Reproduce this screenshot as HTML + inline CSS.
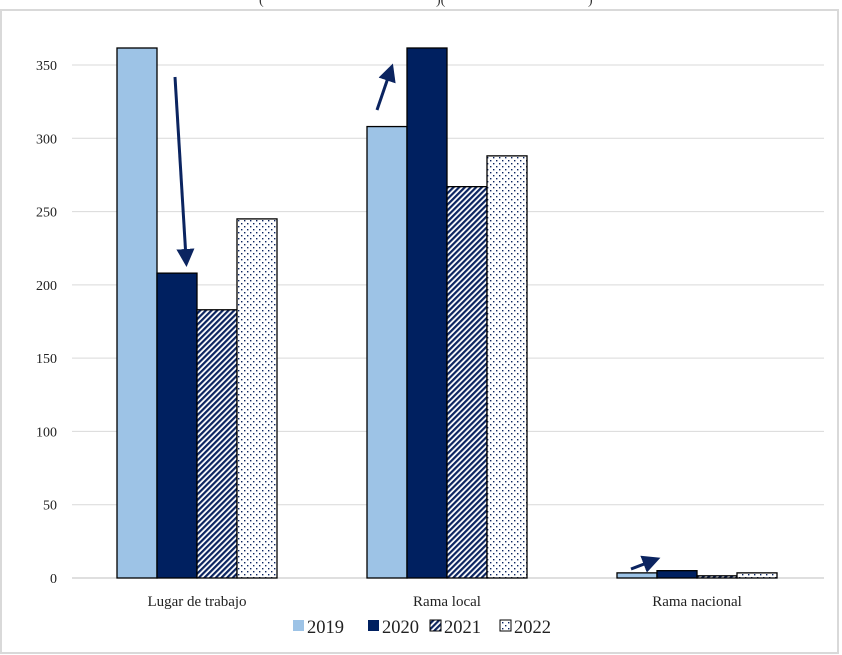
<!DOCTYPE html>
<html><head><meta charset="utf-8"><style>
body{margin:0;background:#fff;}
svg{display:block;font-family:"Liberation Serif",serif;}
</style></head><body>
<svg width="842" height="655" id="chart">
<defs>
<pattern id="p2021" patternUnits="userSpaceOnUse" width="4" height="4" patternTransform="rotate(45)">
<rect width="4" height="4" fill="#fff"/><rect width="2.2" height="4" fill="#0b2460"/></pattern>
<pattern id="p2022" patternUnits="userSpaceOnUse" width="6" height="6">
<rect width="6" height="6" fill="#fff"/><rect x="1" y="1" width="1.4" height="1.4" fill="#0b2460"/><rect x="4" y="4" width="1.4" height="1.4" fill="#0b2460"/></pattern>
<marker id="ah" markerWidth="6" markerHeight="6" refX="3" refY="3" orient="auto" markerUnits="strokeWidth"><path d="M0,0 L6,3 L0,6 Z" fill="#0b2460"/></marker>
</defs>
<rect x="1" y="10" width="837" height="643" fill="none" stroke="#d9d9d9" stroke-width="2"/>
<text x="259" y="4" font-size="14" fill="#333">(</text>
<text x="436" y="4" font-size="14" fill="#333">)(</text>
<text x="588" y="4" font-size="14" fill="#333">)</text>
<g id="grid"></g><g id="bars"></g><g id="labels"></g>
<line x1="175" y1="77" x2="186" y2="258" stroke="#0b2460" stroke-width="3" marker-end="url(#ah)"/>
<line x1="377" y1="110" x2="390" y2="72" stroke="#0b2460" stroke-width="3" marker-end="url(#ah)"/>
<line x1="631" y1="569" x2="652" y2="561" stroke="#0b2460" stroke-width="3" marker-end="url(#ah)"/>
<g id="legend"></g>
</svg>
<script>
const categories=["Lugar de trabajo","Rama local","Rama nacional"];
const years=["2019","2020","2021","2022"];
const v2019=[380,308,3.5];
const v2020=[208,420,5];
const v2021=[183,267,1.5];
const v2022=[245,288,3.5];
const yTicks=[0,50,100,150,200,250,300,350];
const series=[v2019,v2020,v2021,v2022];
const fills=["#9dc3e6","#002060","url(#p2021)","url(#p2022)"];
const NS="http://www.w3.org/2000/svg";
const x0=72,x1=822,y0=578,pxPer=(578-65)/350,yTop=48;
const y=v=>Math.max(yTop,y0-v*pxPer);
const bw=40,catW=(x1-x0)/categories.length;
function mk(t,a,p){const e=document.createElementNS(NS,t);for(const k in a)e.setAttribute(k,a[k]);p.appendChild(e);return e;}
const grid=document.getElementById('grid'),bars=document.getElementById('bars'),labels=document.getElementById('labels'),legend=document.getElementById('legend');
yTicks.forEach(t=>{
 const l=mk('line',{x1:x0,x2:824,y1:y0-t*pxPer,y2:y0-t*pxPer,stroke:'#d9d9d9','stroke-width':1},grid);
 
 
 const tx=mk('text',{x:57,y:y0-t*pxPer+5,'text-anchor':'end','font-size':14,fill:'#222'},labels);
 tx.textContent=t;
 
 
});
categories.forEach((c,i)=>{
 const cx=x0+catW*(i+0.5);
 series.forEach((s,j)=>{
  const bx=cx-2*bw+j*bw,by=y(s[i]);
  const r=mk('rect',{x:bx,y:by,width:bw,height:y0-by,fill:fills[j],stroke:'#000','stroke-width':1.3},bars);
  
  
 });
 const t=mk('text',{x:cx,y:606,'text-anchor':'middle','font-size':15,fill:'#222'},labels);
 t.textContent=c;
 
 
});
const lx=[293,368,430,500];
years.forEach((yr,j)=>{
 const b=mk('rect',{x:lx[j],y:620,width:11,height:11,fill:fills[j],stroke:j>1?'#000':'none','stroke-width':1},legend);
 
 
 const t=mk('text',{x:lx[j]+14,y:633,'font-size':18.5,fill:'#222'},legend);
 t.textContent=yr;
 
 
});
mk('line',{x1:x0,x2:824,y1:y0,y2:y0,stroke:'#bfbfbf','stroke-width':1},grid);
</script>
</body></html>
